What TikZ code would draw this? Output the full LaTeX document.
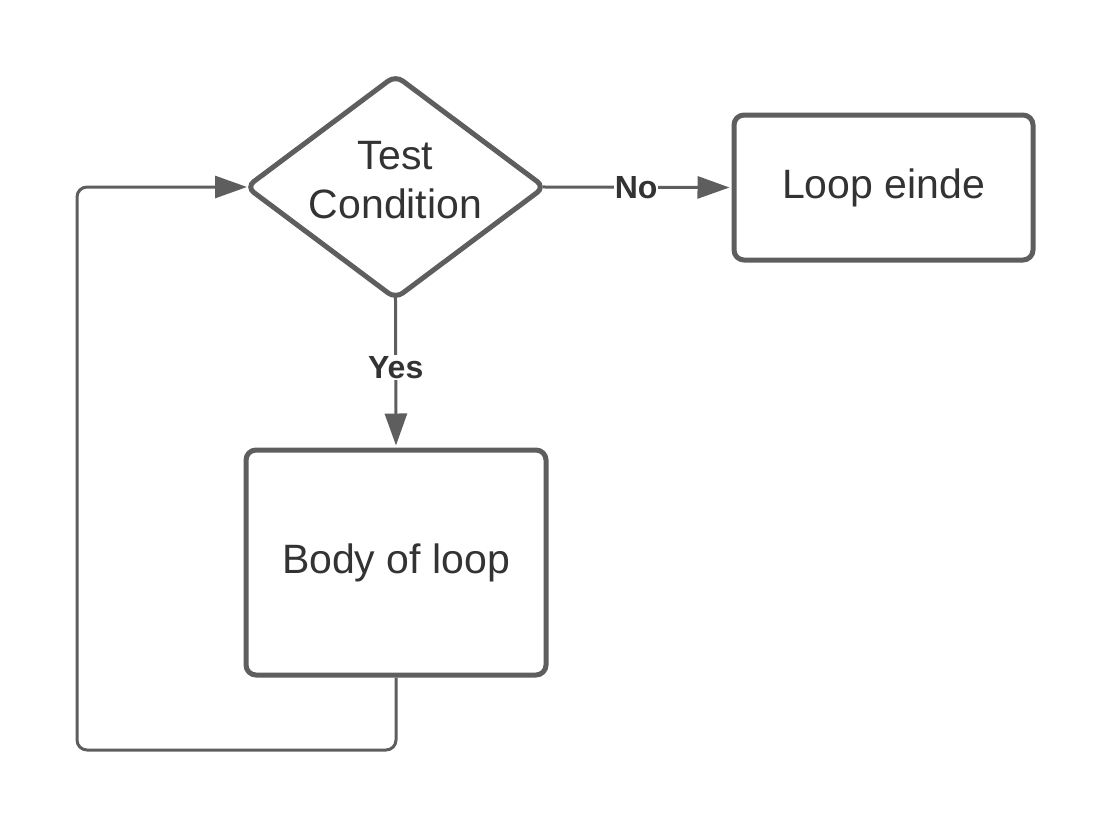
\documentclass[tikz,border=0pt]{standalone}
\usepackage{fontspec}
\setmainfont{Liberation Sans}
\usetikzlibrary{arrows.meta,positioning,shapes.geometric}
\definecolor{Ink}{HTML}{333333}
\definecolor{Edge}{HTML}{5E5E5E}
\tikzset{
 every node/.style={text=Ink},
 arr/.style={-{Triangle[length=32pt,width=22pt]},line width=3pt,draw=Edge},
 decision/.style={diamond,draw=Edge,line width=5pt,fill=white,inner sep=0pt,
  minimum width=300pt,minimum height=225pt,rounded corners=9pt},
 stagebox/.style={draw=Edge,line width=5pt,fill=white,rounded corners=10pt,
  font=\fontsize{41}{49}\selectfont},
 tag/.style={fill=white,inner sep=1pt,font=\fontsize{32}{38}\selectfont\bfseries},
 }
\begin{document}
\begin{tikzpicture}[x=1pt,y=-1pt]
 \useasboundingbox (0,0) rectangle (1108,831);
 \node[decision,label={[align=center,yshift=7pt,font=\fontsize{41}{49}\selectfont]center:Test\\Condition}] (cond) at (395.5,187) {};
 \node[stagebox,minimum width=299pt,minimum height=145pt] (done) at (883.5,187.5) {Loop einde};
 \node[stagebox,minimum width=300pt,minimum height=225pt] (body) at (396,562.5) {Body of loop};
 \coordinate (back) at (77,750);
 % connectors
 \draw[arr,shorten <=-5pt,shorten >=2pt] (cond.east) -- node[tag,pos=.48]{No} (done.west);
 \draw[arr,shorten <=-5pt,shorten >=2pt] (cond.south) -- node[tag,pos=.45]{Yes} (body.north);
 \draw[arr,shorten >=-4pt,rounded corners=10pt] (body.south) |- (back) |- (cond.west);
\end{tikzpicture}
\end{document}
